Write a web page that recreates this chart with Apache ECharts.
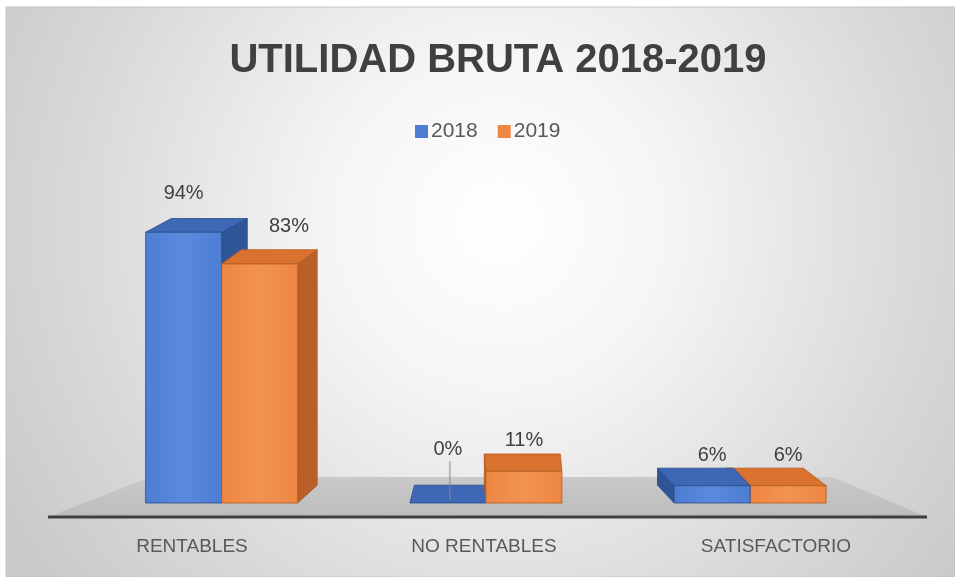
<!DOCTYPE html>
<html><head><meta charset="utf-8">
<script src="https://cdn.jsdelivr.net/npm/echarts@6/dist/echarts.min.js"></script>
<style>html,body{margin:0;padding:0;background:#fff}#c{width:955px;height:577px}</style>
</head><body><div id="c"></div>
<script>
const titleText = 'UTILIDAD BRUTA 2018-2019';
const categories = ['RENTABLES', 'NO RENTABLES', 'SATISFACTORIO'];
const seriesNames = ['2018', '2019'];
const values2018 = [94, 0, 6];
const values2019 = [83, 11, 6];

const VP_X = 504;          // perspective centre (px)
const FRONT_SCALE = 0.905; // front plane of bars vs floor front edge
const FLOOR_BACK_SCALE = 0.776;
const BAR_W = 76;
const DEPTH_K = 0.08;
const FONT = '"Liberation Sans", Arial, sans-serif';

const palette = [
  {front: '#4D7ED4', light: '#5A8ADC', top: '#3E67B6', side: '#2F5597', edge: 'rgba(40,75,140,0.8)'},
  {front: '#EE8642', light: '#F29352', top: '#D9722F', side: '#B9602A', edge: 'rgba(180,90,30,0.8)'}
];

const allValues = [values2018, values2019];

function barRender(sIdx) {
  const col = palette[sIdx];
  return function (params, api) {
    const cs = params.coordSys;
    const cat = api.value(0), val = api.value(1);
    const p0 = api.coord([cat, 0]);
    const p1 = api.coord([cat, val]);
    const base = p0[1], top = p1[1];
    const clusterCx = VP_X + (p0[0] - VP_X) * FRONT_SCALE;
    const x0 = clusterCx + (sIdx === 0 ? -BAR_W : 0);
    const x1 = x0 + BAR_W;
    const mid = (x0 + x1) / 2;
    const dx = (VP_X - mid) * DEPTH_K;
    const dy = -(13.5 + (top - cs.y) * 0.015);
    const dyB = -(13.5 + (base - cs.y) * 0.015);
    const zb = 1000 - Math.abs(mid - VP_X);
    const children = [];
    let side;
    if (dx >= 0) {
      side = [[x1, top], [x1 + dx, top + dy], [x1 + dx, base + dyB], [x1, base]];
    } else {
      side = [[x0, top], [x0 + dx, top + dy], [x0 + dx, base + dyB], [x0, base]];
    }
    children.push({type: 'polygon', z2: zb, shape: {points: side},
      style: {fill: col.side, stroke: col.edge, lineWidth: 1}});
    children.push({type: 'polygon', z2: zb + 1,
      shape: {points: [[x0, top], [x1, top], [x1 + dx, top + dy], [x0 + dx, top + dy]]},
      style: {fill: col.top, stroke: col.edge, lineWidth: 1}});
    if (base - top > 0.5) {
      children.push({type: 'rect', z2: zb + 2,
        shape: {x: x0, y: top, width: BAR_W, height: base - top},
        style: {
          fill: {type: 'linear', x: 0, y: 0, x2: 1, y2: 0, colorStops: [
            {offset: 0, color: col.front}, {offset: 0.5, color: col.light}, {offset: 1, color: col.front}]},
          stroke: col.edge, lineWidth: 1}});
    }
    // data label
    const backTop = top + dy;
    const h = base - top;
    let off = 12 + h * 0.048;
    let lx = mid;
    const other = allValues[1 - sIdx][cat];
    if (sIdx === 1 && dx > 0 && other > val) lx = mid + dx * 1.5;
    if (sIdx === 0 && dx < 0 && other > val) lx = mid + dx * 1.5;
    if (val === 0) {
      off = 36;
      children.push({type: 'line', z2: 5000,
        shape: {x1: mid + 2, y1: backTop - off + 12, x2: mid + 2, y2: base - 3},
        style: {stroke: '#8a8a8a', lineWidth: 1}});
    }
    children.push({type: 'text', z2: 5001,
      style: {x: lx, y: backTop - off, text: val + '%', fill: '#404040',
        font: '20px ' + FONT, align: 'center', verticalAlign: 'middle'}});
    return {type: 'group', children: children};
  };
}

function floorRender(params, api) {
  const cs = params.coordSys;
  const baseY = cs.y + cs.height;
  const fy = baseY + 14, by = baseY - 26;
  const fl = cs.x + 2, fr = cs.x + cs.width + 5;
  const bl = VP_X + (fl - VP_X) * FLOOR_BACK_SCALE;
  const br = VP_X + (fr - VP_X) * FLOOR_BACK_SCALE;
  return {type: 'group', children: [
    {type: 'polygon', shape: {points: [[bl, by], [br, by], [fr, fy], [fl, fy]]},
      style: {fill: {type: 'linear', x: 0, y: 0, x2: 0, y2: 1, colorStops: [
        {offset: 0, color: '#c9c9c9'}, {offset: 1, color: '#bcbcbc'}]}}},
    {type: 'line', shape: {x1: fl, y1: fy, x2: fr, y2: fy},
      style: {stroke: '#3f3f3f', lineWidth: 3}}
  ]};
}

const chart = echarts.init(document.getElementById('c'), null, {renderer: 'canvas'});
chart.setOption({
  animation: false,
  backgroundColor: '#ffffff',
  graphic: [{
    type: 'rect', z: -10, silent: true,
    shape: {x: 6, y: 7, width: 949, height: 570},
    style: {
      fill: {type: 'radial', x: 0.52, y: 0.38, r: 1.0, colorStops: [
        {offset: 0, color: '#ffffff'}, {offset: 0.3, color: '#f5f5f5'},
        {offset: 0.75, color: '#d8d8d8'}, {offset: 1, color: '#cacaca'}]},
      stroke: '#c4c4c4', lineWidth: 1
    }
  }],
  title: {
    text: titleText, left: 493, top: 36, textAlign: 'center',
    textStyle: {fontFamily: FONT, fontWeight: 'bold', fontSize: 40, color: '#404040'}
  },
  legend: {
    data: seriesNames, left: 410, top: 116, icon: 'rect',
    itemWidth: 13, itemHeight: 13, itemGap: 20,
    textStyle: {fontFamily: FONT, fontSize: 21, color: '#595959', padding: [0, 0, 0, -2]}
  },
  grid: {left: 46, right: 33, top: 215, bottom: 74, containLabel: false},
  xAxis: {
    type: 'category', data: categories,
    axisLine: {show: false}, axisTick: {show: false}, splitLine: {show: false},
    axisLabel: {margin: 34, fontFamily: FONT, fontSize: 19, color: '#595959'}
  },
  yAxis: {type: 'value', min: 0, max: 100, show: false},
  series: [
    {type: 'custom', name: 'floor', z: 1, silent: true, renderItem: floorRender,
      data: [[0, 0]], encode: {x: 0, y: 1}},
    {type: 'custom', name: seriesNames[0], z: 2, renderItem: barRender(0),
      itemStyle: {color: palette[0].front}, encode: {x: 0, y: 1},
      data: categories.map((c, i) => [i, values2018[i]])},
    {type: 'custom', name: seriesNames[1], z: 2, renderItem: barRender(1),
      itemStyle: {color: palette[1].front}, encode: {x: 0, y: 1},
      data: categories.map((c, i) => [i, values2019[i]])}
  ]
});
</script></body></html>
